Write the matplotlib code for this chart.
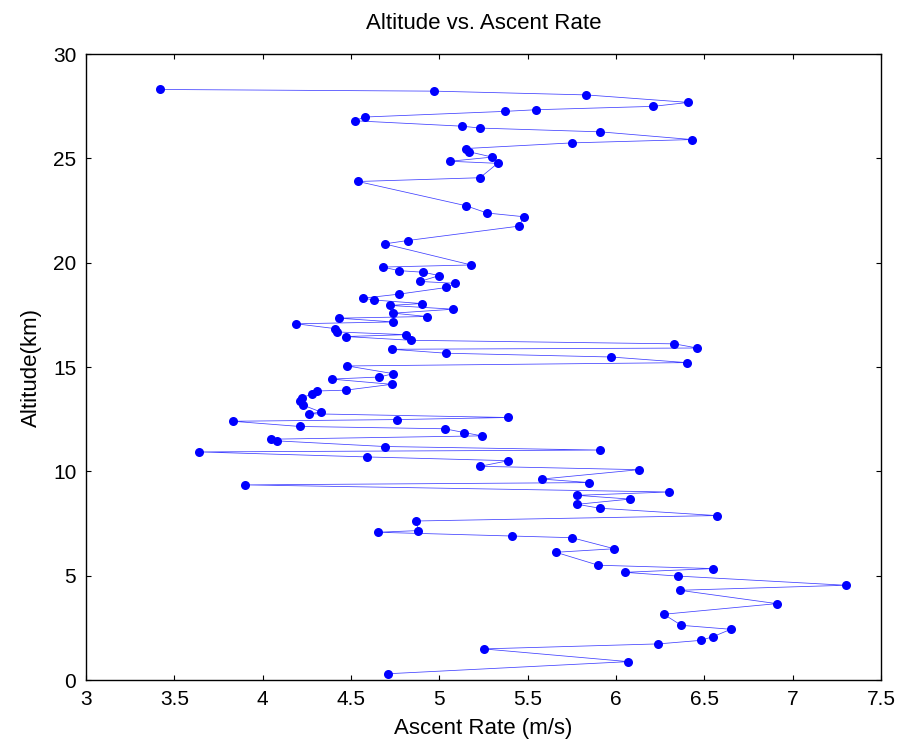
import matplotlib
matplotlib.use("Agg")
import matplotlib.pyplot as plt

# Ascent rate (m/s) and altitude (km), ordered from launch upward
ascent_rate = [4.71, 6.07, 5.25, 6.24, 6.48, 6.55, 6.65, 6.37, 6.27, 6.91,
               6.36, 7.30, 6.35, 6.05, 6.55, 5.90, 5.66, 5.99, 5.75, 5.41,
               4.65, 4.88, 4.87, 6.57, 5.91, 5.78, 6.08, 5.78, 6.30, 3.90,
               5.85, 5.58, 6.13, 5.23, 5.39, 4.59, 3.64, 5.91, 4.69, 4.08,
               4.05, 5.24, 5.14, 5.03, 4.21, 3.83, 4.76, 5.39, 4.26, 4.33,
               4.23, 4.21, 4.22, 4.28, 4.31, 4.47, 4.73, 4.39, 4.66, 4.74,
               4.48, 6.40, 5.97, 5.04, 4.73, 6.46, 6.33, 4.84, 4.47, 4.81,
               4.42, 4.41, 4.19, 4.74, 4.43, 4.93, 4.74, 5.08, 4.72, 4.90,
               4.63, 4.57, 4.77, 5.04, 5.09, 4.89, 5.00, 4.91, 4.77, 4.68,
               5.18, 4.69, 4.82, 5.45, 5.48, 5.27, 5.15, 4.54, 5.23, 5.33,
               5.06, 5.30, 5.17, 5.15, 5.75, 6.43, 5.91, 5.23, 5.13, 4.52,
               4.58, 5.37, 5.55, 6.21, 6.41, 5.83, 4.97, 3.42]
altitude = [0.30, 0.88, 1.49, 1.73, 1.90, 2.08, 2.43, 2.62, 3.15, 3.66,
            4.30, 4.54, 4.98, 5.16, 5.34, 5.50, 6.12, 6.29, 6.82, 6.90,
            7.08, 7.16, 7.62, 7.88, 8.23, 8.42, 8.67, 8.85, 9.01, 9.35,
            9.46, 9.63, 10.08, 10.24, 10.51, 10.69, 10.93, 11.02, 11.19, 11.46,
            11.54, 11.70, 11.86, 12.04, 12.15, 12.40, 12.48, 12.58, 12.76, 12.84,
            13.17, 13.38, 13.53, 13.70, 13.85, 13.89, 14.17, 14.42, 14.52, 14.68,
            15.05, 15.21, 15.48, 15.66, 15.85, 15.91, 16.11, 16.28, 16.46, 16.55,
            16.68, 16.84, 17.07, 17.16, 17.34, 17.42, 17.58, 17.77, 17.95, 18.04,
            18.21, 18.30, 18.49, 18.81, 19.01, 19.10, 19.38, 19.54, 19.62, 19.79,
            19.89, 20.90, 21.06, 21.75, 22.20, 22.38, 22.73, 23.89, 24.07, 24.76,
            24.86, 25.06, 25.31, 25.47, 25.74, 25.90, 26.27, 26.45, 26.54, 26.80,
            26.98, 27.25, 27.33, 27.49, 27.68, 28.04, 28.22, 28.30]

x_ticks = [3, 3.5, 4, 4.5, 5, 5.5, 6, 6.5, 7, 7.5]
x_tick_labels = ["3", "3.5", "4", "4.5", "5", "5.5", "6", "6.5", "7", "7.5"]
y_ticks = [0, 5, 10, 15, 20, 25, 30]
y_tick_labels = ["0", "5", "10", "15", "20", "25", "30"]

plt.rcParams['font.family'] = ['Liberation Sans', 'DejaVu Sans']

fig = plt.figure(figsize=(9, 7.4), dpi=100)
ax = fig.add_axes([86/900, 1 - 680/740, (881-86)/900, (680-54)/740])

ax.plot(ascent_rate, altitude, color='#0000ff', lw=0.55, alpha=0.75)
ax.plot(ascent_rate, altitude, linestyle='none', marker='o', markersize=6.5,
        markerfacecolor='#0000ff', markeredgecolor='#0000ff', markeredgewidth=0)

ax.set_xlim(3, 7.5)
ax.set_ylim(0, 30)
ax.set_xticks(x_ticks)
ax.set_xticklabels(x_tick_labels)
ax.set_yticks(y_ticks)
ax.set_yticklabels(y_tick_labels)
ax.tick_params(direction='in', length=3.5, width=0.8, labelsize=15,
               top=True, right=True, pad=7)
for s in ax.spines.values():
    s.set_linewidth(1.0)

ax.set_title("Altitude vs. Ascent Rate", fontsize=16, pad=18)
ax.set_xlabel("Ascent Rate (m/s)", fontsize=16, labelpad=7)
ax.set_ylabel("Altitude(km)", fontsize=16, labelpad=8)

fig.savefig("out.png", dpi=100)
